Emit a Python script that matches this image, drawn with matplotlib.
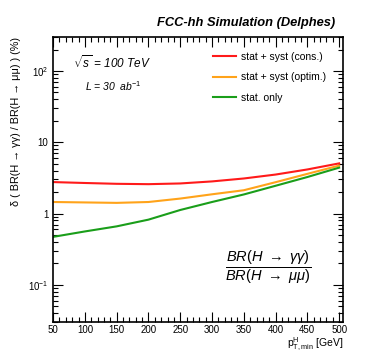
import numpy as np
import matplotlib.pyplot as plt
from matplotlib.ticker import MultipleLocator, FixedLocator, FixedFormatter, LogLocator, NullFormatter

plt.rcParams['font.family'] = ['Liberation Sans', 'DejaVu Sans']
plt.rcParams['mathtext.fontset'] = 'custom'
plt.rcParams['mathtext.rm'] = 'Liberation Sans'
plt.rcParams['mathtext.it'] = 'Liberation Sans:italic'

pt = [50, 100, 150, 200, 250, 300, 350, 400, 450, 500]
cons = [2.76, 2.68, 2.61, 2.58, 2.64, 2.82, 3.10, 3.52, 4.15, 5.05]
optim = [1.45, 1.43, 1.41, 1.45, 1.62, 1.86, 2.12, 2.75, 3.60, 4.70]
stat = [0.47, 0.56, 0.66, 0.82, 1.12, 1.45, 1.85, 2.45, 3.25, 4.40]

labels = ["stat + syst (cons.)", "stat + syst (optim.)", "stat. only"]
colors = ["#ff1a1a", "#ffa31a", "#1a9e1a"]

fig = plt.figure(figsize=(3.74, 3.59), dpi=100)
ax = fig.add_axes([0.142, 0.103, 0.775, 0.794])

for y, lab, c in zip([cons, optim, stat], labels, colors):
    ax.plot(pt, y, color=c, lw=1.5, label=lab)

ax.set_yscale('log')
ax.set_xlim(50, 506)
ax.set_ylim(0.03, 300)

ax.xaxis.set_major_locator(MultipleLocator(50))
ax.xaxis.set_minor_locator(MultipleLocator(10))
ax.yaxis.set_major_locator(FixedLocator([0.1, 1, 10, 100]))
ax.yaxis.set_major_formatter(FixedFormatter([r'$10^{-1}$', '1', '10', r'$10^{2}$']))
ax.yaxis.set_minor_locator(LogLocator(base=10, subs=np.arange(2, 10)))
ax.yaxis.set_minor_formatter(NullFormatter())
ax.tick_params(which='both', direction='in', top=True, right=True, labelsize=7, width=0.8)
ax.tick_params(which='major', length=7)
ax.tick_params(which='minor', length=3.5)
ax.tick_params(axis='x', pad=2)
for s in ax.spines.values():
    s.set_linewidth(1.2)

ax.set_ylabel('δ ( BR(H → γγ) / BR(H → μμ) ) (%)', fontsize=7.8, loc='top', labelpad=5)
ax.set_xlabel(r'p$^{\rm H}_{\rm T,min}$ [GeV]', fontsize=7.5, loc='right', labelpad=1)

fig.text(0.897, 0.937, 'FCC-hh Simulation (Delphes)', fontsize=9.3,
         fontweight='bold', fontstyle='italic', ha='right', va='center')
ax.text(0.07, 0.91, r'$\sqrt{s}$ = 100 TeV', transform=ax.transAxes,
        fontsize=8.5, fontstyle='italic', va='center')
ax.text(0.11, 0.828, r'L = 30  ab$^{-1}$', transform=ax.transAxes,
        fontsize=7.5, fontstyle='italic', va='center')
ax.text(0.89, 0.19, r'$\frac{BR(H\ \rightarrow\ \gamma\gamma)}{BR(H\ \rightarrow\ \mu\mu)}$',
        transform=ax.transAxes, fontsize=15, ha='right', va='center')

ax.legend(loc='upper left', bbox_to_anchor=(0.52, 0.98), frameon=False, fontsize=7.5,
          handlelength=2.2, handletextpad=0.5, labelspacing=1.0)

fig.savefig('out.png', dpi=100)
